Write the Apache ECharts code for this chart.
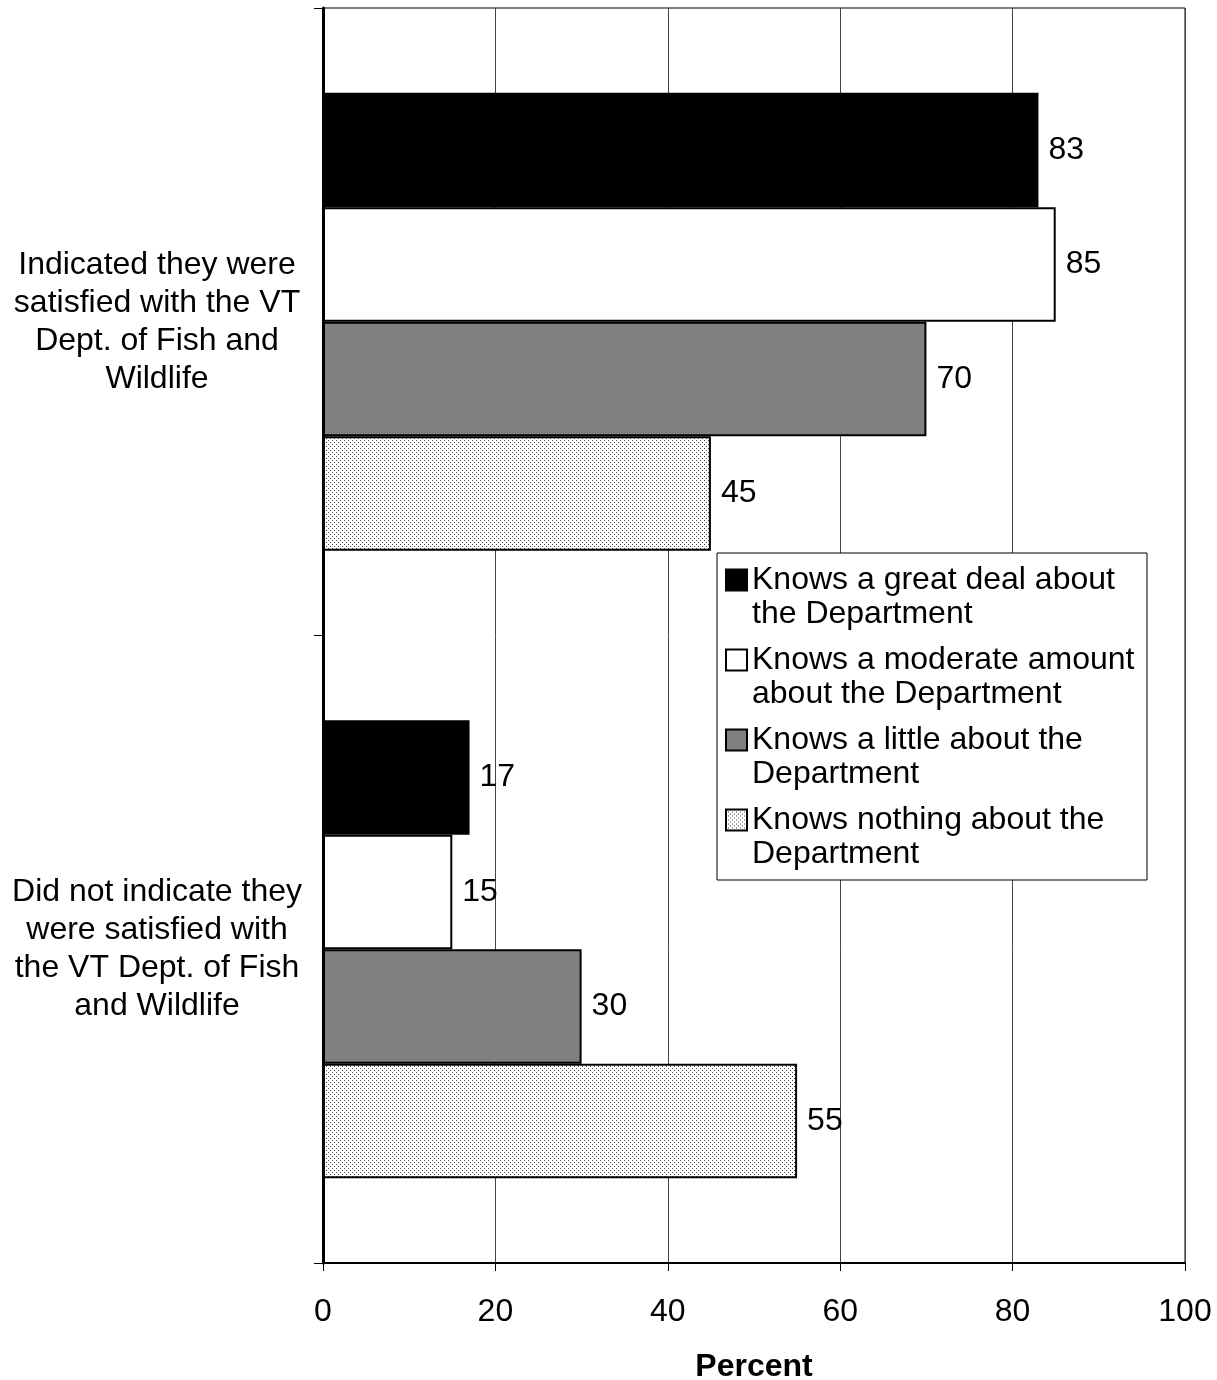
<!DOCTYPE html>
<html>
<head>
<meta charset="utf-8">
<script src="https://cdn.jsdelivr.net/npm/echarts@6/dist/echarts.min.js"></script>
<style>
html, body { margin: 0; padding: 0; background: #fff; }
#main { width: 1217px; height: 1380px; }
</style>
</head>
<body>
<div id="main"></div>
<script>
// 数据
var categories = [
    'Indicated they were\nsatisfied with the VT\nDept. of Fish and\nWildlife',
    'Did not indicate they\nwere satisfied with\nthe VT Dept. of Fish\nand Wildlife'
];
var seriesNames = [
    'Knows a great deal about\nthe Department',
    'Knows a moderate amount\nabout the Department',
    'Knows a little about the\nDepartment',
    'Knows nothing about the\nDepartment'
];
var greatDeal = [83, 17];
var moderate = [85, 15];
var little = [70, 30];
var nothing = [45, 55];
var xTicks = [0, 20, 40, 60, 80, 100];

// 点状填充
var pc = document.createElement('canvas');
pc.width = 4; pc.height = 4;
var pctx = pc.getContext('2d');
pctx.fillStyle = '#ffffff';
pctx.fillRect(0, 0, 4, 4);
pctx.fillStyle = '#444444';
pctx.fillRect(0, 0, 1, 1);
pctx.fillRect(2, 2, 1, 1);
var dots = { image: pc, repeat: 'repeat' };

var font = 'Liberation Sans, Arial, sans-serif';
var fills = ['#000000', '#ffffff', '#808080', dots];
var values = [greatDeal, moderate, little, nothing];

var myChart = echarts.init(document.getElementById('main'));

var series = [];
for (var i = 0; i < values.length; i++) {
    series.push({
        name: seriesNames[i],
        type: 'bar',
        data: values[i],
        barGap: '0%',
        barCategoryGap: '27%',
        itemStyle: { color: fills[i], borderColor: '#000', borderWidth: 2 },
        label: {
            show: true,
            position: 'right',
            distance: 10,
            color: '#000',
            fontSize: 32,
            fontFamily: font
        }
    });
}

myChart.setOption({
    animation: false,
    grid: {
        left: 323, right: 32, top: 8, bottom: 117,
        outerBoundsMode: 'none',
        containLabel: false,
        show: true, borderColor: '#000', borderWidth: 1, backgroundColor: '#fff'
    },
    legend: {
        orient: 'vertical',
        left: 725,
        top: 563,
        padding: 0,
        z: 10,
        itemWidth: 21,
        itemHeight: 55,
        itemGap: 12,
        // 图例方块放在第一行文字旁
        icon: 'path://M0,0H21V21H0Z M0,55',
        textStyle: {
            fontSize: 32, fontFamily: font, color: '#000', lineHeight: 34
        },
        data: seriesNames
    },
    graphic: [{
        type: 'rect',
        z: 5,
        shape: { x: 717, y: 553, width: 430, height: 327 },
        style: { fill: '#fff', stroke: '#000', lineWidth: 1 }
    }],
    xAxis: {
        type: 'value',
        min: 0, max: 100, interval: 20,
        name: 'Percent',
        nameLocation: 'middle',
        nameGap: 88,
        nameTextStyle: { fontSize: 32, fontWeight: 'bold', fontFamily: font, color: '#000' },
        axisLine: { show: true, lineStyle: { color: '#000', width: 2 } },
        axisTick: { show: true, length: 8, lineStyle: { color: '#000' } },
        axisLabel: {
            margin: 33, fontSize: 32, fontFamily: font, color: '#000',
            formatter: function (v) { return xTicks.indexOf(v) >= 0 ? String(v) : ''; }
        },
        splitLine: { show: true, lineStyle: { color: '#444', width: 1 } }
    },
    yAxis: {
        type: 'category',
        inverse: true,
        data: categories,
        axisLine: { show: true, lineStyle: { color: '#000', width: 3 } },
        axisTick: { show: true, length: 9, lineStyle: { color: '#000' } },
        axisLabel: {
            margin: 166, align: 'center', fontSize: 32, lineHeight: 38,
            fontFamily: font, color: '#000'
        }
    },
    series: series
});
</script>
</body>
</html>
